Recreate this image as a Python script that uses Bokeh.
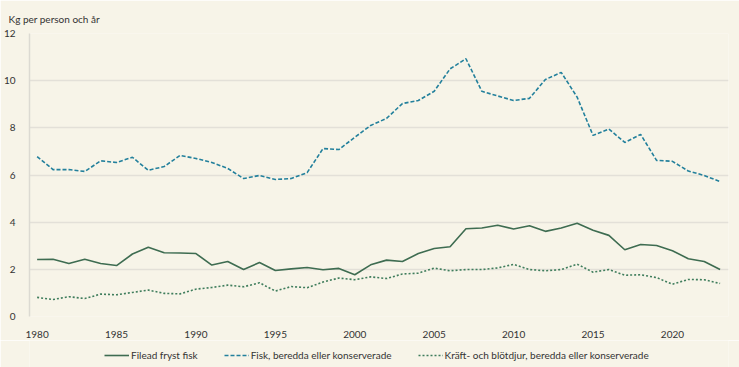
from bokeh.plotting import figure
from bokeh.layouts import column
from bokeh.models import ColumnDataSource, FixedTicker, Legend, LegendItem, Range1d
from bokeh.embed import file_html
from bokeh.resources import INLINE

years = list(range(1980, 2024))

filead_fryst_fisk = [2.42, 2.43, 2.25, 2.43, 2.25, 2.16, 2.65, 2.94, 2.70, 2.69,
                     2.67, 2.18, 2.33, 1.99, 2.29, 1.95, 2.02, 2.08, 1.98, 2.04,
                     1.77, 2.19, 2.39, 2.33, 2.67, 2.88, 2.96, 3.72, 3.75, 3.87,
                     3.71, 3.85, 3.61, 3.75, 3.95, 3.66, 3.44, 2.83, 3.05, 3.01,
                     2.79, 2.45, 2.33, 1.99]

fisk_beredda = [6.78, 6.23, 6.23, 6.15, 6.60, 6.53, 6.75, 6.20, 6.36, 6.83,
                6.70, 6.53, 6.28, 5.85, 5.98, 5.81, 5.85, 6.10, 7.12, 7.08,
                7.60, 8.10, 8.40, 9.03, 9.16, 9.55, 10.50, 10.93, 9.55, 9.35,
                9.16, 9.25, 10.05, 10.35, 9.30, 7.68, 7.95, 7.38, 7.72, 6.62,
                6.58, 6.17, 5.98, 5.72]

kraft_blotdjur = [0.81, 0.72, 0.84, 0.76, 0.95, 0.92, 1.02, 1.12, 0.98, 0.96,
                  1.16, 1.23, 1.33, 1.26, 1.43, 1.08, 1.27, 1.22, 1.46, 1.63,
                  1.56, 1.68, 1.61, 1.80, 1.84, 2.05, 1.94, 1.99, 1.99, 2.06,
                  2.21, 1.99, 1.94, 1.99, 2.22, 1.88, 1.99, 1.75, 1.77, 1.65,
                  1.37, 1.57, 1.56, 1.40]

series_names = ["Filead fryst fisk",
                "Fisk, beredda eller konserverade",
                "Kräft- och blötdjur, beredda eller konserverade"]
x_ticks = [1980, 1985, 1990, 1995, 2000, 2005, 2010, 2015, 2020]
y_ticks = [0, 2, 4, 6, 8, 10, 12]
y_title = "Kg per person och år"

BG = "#f7f4e8"
FONT = "Lato"
TXT = "#333333"
FS = "10px"
COLS = ["a", "b", "c"]
STYLES = [dict(line_color="#3e6c51", line_width=1.6),
          dict(line_color="#23809c", line_width=1.6, line_dash="4 2"),
          dict(line_color="#3f7d5c", line_width=1.6, line_dash="2 2")]

src = ColumnDataSource(dict(year=years, a=filead_fryst_fisk, b=fisk_beredda, c=kraft_blotdjur))

p = figure(width=739, height=340, output_backend="svg", toolbar_location=None,
           x_range=Range1d(1979.52, 2023.53), y_range=Range1d(0, 12),
           min_border_left=29, min_border_right=11, min_border_top=33, min_border_bottom=24,
           background_fill_color=BG, border_fill_color=BG, outline_line_color=None)

p.title.text = y_title
p.title.align = "left"
p.title.offset = -21
p.title.text_font = FONT
p.title.text_font_size = FS
p.title.text_font_style = "normal"
p.title.text_color = TXT
p.title.standoff = 17

for col, st in zip(COLS, STYLES):
    p.line("year", col, source=src, **st)

p.xaxis.ticker = FixedTicker(ticks=x_ticks)
p.yaxis.ticker = FixedTicker(ticks=y_ticks)
for ax in (p.xaxis[0], p.yaxis[0]):
    ax.major_tick_line_color = None
    ax.minor_tick_line_color = None
    ax.major_label_text_font = FONT
    ax.major_label_text_font_size = FS
    ax.major_label_text_color = TXT
p.xaxis.major_label_standoff = 8
p.yaxis.major_label_standoff = 8
p.xaxis.axis_line_color = None
p.yaxis.axis_line_color = "#dcdad2"
p.yaxis.axis_line_width = 1.5

p.xgrid.grid_line_color = None
p.ygrid.grid_line_color = "#e3e0d8"
p.ygrid.grid_line_width = 1.5

# legend strip: same series, drawn outside this strip's visible range
q = figure(width=739, height=27, output_backend="svg", toolbar_location=None,
           x_range=Range1d(0, 1), y_range=Range1d(0, 1),
           min_border_left=0, min_border_right=0, min_border_top=0, min_border_bottom=0,
           background_fill_color=BG, border_fill_color=BG, outline_line_color=None)
q.axis.visible = False
q.grid.visible = False
items = []
for name, col, st in zip(series_names, COLS, STYLES):
    r = q.line("year", col, source=src, **st)
    items.append(LegendItem(label=name, renderers=[r]))
legend = Legend(items=items, orientation="horizontal", location=(75, 5),
                label_text_font=FONT, label_text_font_size=FS, label_text_color=TXT,
                glyph_width=25, glyph_height=14, label_standoff=2, spacing=26,
                padding=0, margin=0, border_line_color=None,
                background_fill_alpha=0)
q.add_layout(legend, "center")

layout = column(p, q, spacing=0)
open("out.html", "w").write(file_html(layout, INLINE))
